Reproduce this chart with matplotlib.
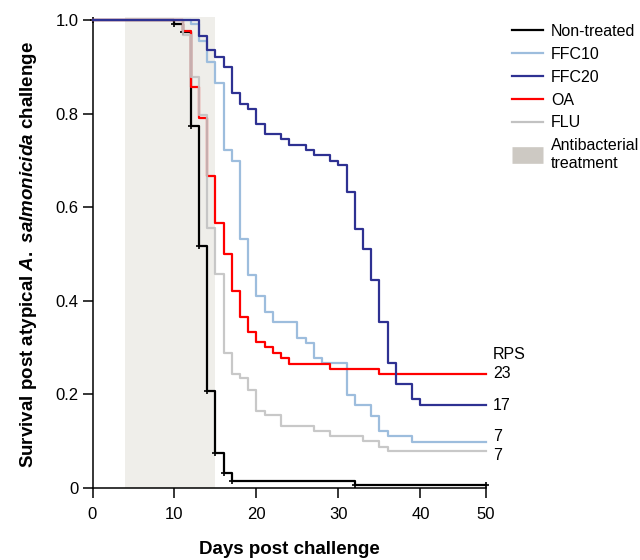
import matplotlib

matplotlib.use("Agg")
import matplotlib.pyplot as plt

plt.rcParams["font.family"] = ["Liberation Sans", "DejaVu Sans"]
plt.rcParams["mathtext.fontset"] = "custom"
plt.rcParams["mathtext.it"] = "Liberation Sans:italic:bold"
plt.rcParams["mathtext.rm"] = "Liberation Sans:bold"

# Kaplan-Meier style survival curves (day, survival)
nt_days = [0, 10, 11, 12, 13, 14, 15, 16, 17, 32, 48]
nt_surv = [1.0, 0.991, 0.975, 0.774, 0.517, 0.207, 0.074, 0.033, 0.016, 0.007, 0.007]

ffc10_days = [0, 12, 13, 14, 15, 16, 17, 18, 19, 20, 21, 22, 25, 26, 27, 28, 31, 32, 34, 35, 36, 39, 48]
ffc10_surv = [1.0, 0.991, 0.956, 0.911, 0.866, 0.722, 0.699, 0.533, 0.455, 0.410, 0.377, 0.355,
              0.321, 0.310, 0.277, 0.267, 0.198, 0.177, 0.154, 0.122, 0.111, 0.099, 0.099]

ffc20_days = [0, 13, 14, 15, 16, 17, 18, 19, 20, 21, 23, 24, 26, 27, 29, 30, 31, 32, 33, 34, 35,
              36, 37, 39, 40, 48]
ffc20_surv = [1.0, 0.966, 0.936, 0.922, 0.900, 0.844, 0.821, 0.810, 0.777, 0.756, 0.745, 0.733,
              0.722, 0.711, 0.699, 0.690, 0.632, 0.554, 0.511, 0.444, 0.355, 0.267, 0.222, 0.190,
              0.177, 0.177]

oa_days = [0, 11, 12, 13, 14, 15, 16, 17, 18, 19, 20, 21, 22, 23, 24, 29, 35, 48]
oa_surv = [1.0, 0.977, 0.856, 0.790, 0.667, 0.567, 0.500, 0.422, 0.366, 0.334, 0.311, 0.301,
           0.289, 0.277, 0.266, 0.254, 0.244, 0.244]

flu_days = [0, 11, 12, 13, 14, 15, 16, 17, 18, 19, 20, 21, 23, 27, 29, 33, 35, 36, 48]
flu_surv = [1.0, 0.967, 0.878, 0.798, 0.556, 0.457, 0.288, 0.243, 0.234, 0.209, 0.165, 0.156,
            0.133, 0.122, 0.111, 0.100, 0.088, 0.078, 0.078]

treatment_start, treatment_end = 4, 15

rps_labels = {"OA": "23", "FFC20": "17", "FFC10": "7", "FLU": "7"}

x_ticks = [0, 10, 20, 30, 40, 48]
x_ticklabels = ["0", "10", "20", "30", "40", "50"]
y_ticks = [0, 0.2, 0.4, 0.6, 0.8, 1.0]
y_ticklabels = ["0", "0.2", "0.4", "0.6", "0.8", "1.0"]

colors = {
    "Non-treated": "#000000",
    "FFC10": "#9dbddd",
    "FFC20": "#2e3192",
    "OA": "#ff0000",
    "FLU": "#c2c2c2",
}

fig = plt.figure(figsize=(6.4, 5.6), dpi=100)
ax = fig.add_axes([92.5 / 640, 72 / 560, (486 - 92.5) / 640, 468 / 560])

ax.fill_between([treatment_start, treatment_end], 0, 1.006, color="#efeeea", lw=0,
                zorder=0, clip_on=False)

lw = 1.6
ax.plot(nt_days, nt_surv, drawstyle="steps-post", color=colors["Non-treated"], lw=lw,
        marker="+", ms=4, mew=1.2, zorder=2, clip_on=False)
ax.plot(ffc10_days, ffc10_surv, drawstyle="steps-post", color=colors["FFC10"], lw=lw, zorder=3,
        clip_on=False)
ax.plot(oa_days, oa_surv, drawstyle="steps-post", color=colors["OA"], lw=lw, zorder=4,
        clip_on=False)
ax.plot(flu_days, flu_surv, drawstyle="steps-post", color=colors["FLU"], lw=lw, zorder=5,
        alpha=0.9, clip_on=False)
ax.plot(ffc20_days, ffc20_surv, drawstyle="steps-post", color=colors["FFC20"], lw=lw, zorder=6,
        clip_on=False)

# RPS annotations at the right end of each curve
ends = {"OA": oa_surv[-1], "FFC20": ffc20_surv[-1], "FFC10": ffc10_surv[-1], "FLU": flu_surv[-1]}
nudge = {"OA": 0, "FFC20": 0, "FFC10": 4, "FLU": -3}
for key, lab in rps_labels.items():
    ax.annotate(lab, (48, ends[key]), xytext=(5, nudge[key]), textcoords="offset points",
                ha="left", va="center", fontsize=11.5, annotation_clip=False)
ax.annotate("RPS", (48, ends["OA"]), xytext=(5, 14), textcoords="offset points",
            ha="left", va="center", fontsize=11.5, annotation_clip=False)

ax.set_xlim(0, 48)
ax.set_ylim(0, 1.0)
ax.set_xticks(x_ticks)
ax.set_xticklabels(x_ticklabels)
ax.set_yticks(y_ticks)
ax.set_yticklabels(y_ticklabels)
ax.tick_params(axis="both", direction="out", length=7, width=1.1, labelsize=12)
ax.tick_params(axis="x", pad=7)
ax.tick_params(axis="y", pad=3)
for side in ("top", "right"):
    ax.spines[side].set_visible(False)
for side in ("left", "bottom"):
    ax.spines[side].set_linewidth(1.1)

ax.set_xlabel("Days post challenge", fontsize=13.5, fontweight="bold", labelpad=13)
ax.set_ylabel(r"Survival post atypical $\mathit{A.\ salmonicida}$ challenge", fontsize=13.5,
              fontweight="bold", labelpad=12)

handles = [plt.Line2D([], [], color=colors[k], lw=lw) for k in colors]
# treatment swatch drawn as a thick butt-capped line so it is taller than the line handles
handles.append(plt.Line2D([], [], color="#cdc9c3", lw=12, solid_capstyle="butt"))
labels = list(colors) + ["Antibacterial\ntreatment"]
fig.legend(handles, labels, loc="upper left", bbox_to_anchor=(0.8, 0.957), frameon=False,
           borderpad=0, borderaxespad=0, fontsize=11.5, handlelength=1.94, handletextpad=0.5,
           labelspacing=0.49)

fig.savefig("out.png", dpi=100)
